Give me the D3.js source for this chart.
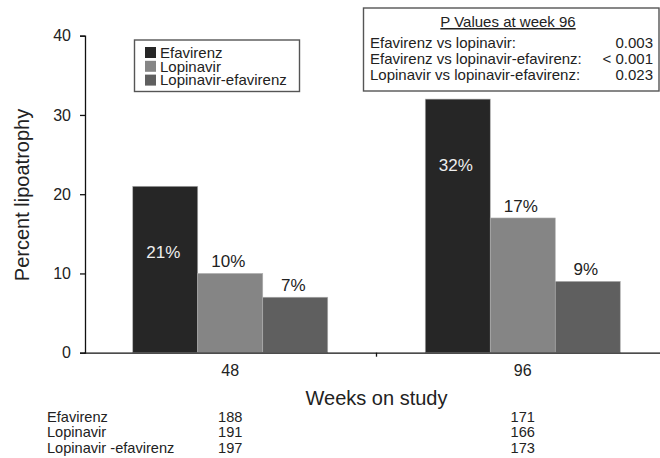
<!DOCTYPE html>
<html>
<head>
<meta charset="utf-8">
<script src="https://cdn.jsdelivr.net/npm/d3@7"></script>
<style>
  body { margin: 0; background: #fff; }
  svg { display: block; font-family: "Liberation Sans", Arial, sans-serif; }
</style>
</head>
<body>
<svg id="chart" width="660" height="458"></svg>
<script>
// data
var weeks = ['48', '96'];
var seriesNames = ['Efavirenz', 'Lopinavir', 'Lopinavir-efavirenz'];
var efavirenzPct = [21, 32];
var lopinavirPct = [10, 17];
var lopEfaPct = [7, 9];
var seriesColors = ['#262626', '#858585', '#5f5f5f'];
var yTicks = [0, 10, 20, 30, 40];

// patients per arm under the x axis
var nRowLabels = ['Efavirenz', 'Lopinavir', 'Lopinavir -efavirenz'];
var nEfavirenz = [188, 171];
var nLopinavir = [191, 166];
var nLopEfa = [197, 173];

// p value box
var pTitle = 'P Values at week 96';
var pComparisons = ['Efavirenz vs lopinavir:', 'Efavirenz vs lopinavir-efavirenz:', 'Lopinavir vs lopinavir-efavirenz:'];
var pValues = ['0.003', '< 0.001', '0.023'];

var svg = d3.select('#chart');

var x0 = d3.scaleBand()
    .domain(weeks)
    .range([84, 669])
    .paddingInner(0)
    .paddingOuter(0);

var x1 = d3.scaleBand()
    .domain(seriesNames)
    .range([0, x0.bandwidth()])
    .paddingInner(0)
    .paddingOuter(0.75);

var y = d3.scaleLinear()
    .domain([0, 40])
    .range([352.7, 35.7]);

var allSeries = [efavirenzPct, lopinavirPct, lopEfaPct];
var bars = [];
weeks.forEach(function (w, i) {
    seriesNames.forEach(function (s, j) {
        bars.push({week: w, series: s, value: allSeries[j][i], idx: j});
    });
});

// bars
svg.append('g')
    .selectAll('rect')
    .data(bars)
    .enter()
    .append('rect')
    .attr('x', function (d) { return x0(d.week) + x1(d.series); })
    .attr('y', function (d) { return y(d.value); })
    .attr('width', x1.bandwidth())
    .attr('height', function (d) { return y(0) - y(d.value); })
    .style('fill', function (d) { return seriesColors[d.idx]; })
    .style('stroke', '#b0b0b0')
    .style('stroke-width', 0.6);

// percent labels: inside the tall dark bar, above the others
svg.append('g')
    .selectAll('text')
    .data(bars)
    .enter()
    .append('text')
    .attr('x', function (d) { return x0(d.week) + x1(d.series) + x1.bandwidth() / 2 - 2; })
    .attr('y', function (d) { return d.idx === 0 ? y(d.value) + 72 : y(d.value) - 6; })
    .attr('text-anchor', 'middle')
    .style('font-size', '17px')
    .style('fill', function (d) { return d.idx === 0 ? '#eeeeee' : '#222'; })
    .text(function (d) { return d.value + '%'; });

// y axis
var yAxis = svg.append('g')
    .attr('transform', 'translate(85,0)')
    .call(d3.axisLeft(y).tickValues(yTicks).tickSize(5).tickPadding(9));
yAxis.select('.domain').attr('stroke', '#111').attr('stroke-width', 1.3);
yAxis.selectAll('.tick line').attr('stroke', '#111').attr('stroke-width', 1.3);
yAxis.selectAll('.tick text')
    .style('font-size', '16px')
    .style('font-family', '"Liberation Sans", Arial, sans-serif')
    .style('fill', '#222');

// x axis
var xAxis = svg.append('g')
    .attr('transform', 'translate(0,' + y(0) + ')')
    .call(d3.axisBottom(x0).tickSize(0).tickPadding(12));
xAxis.select('.domain').attr('stroke', '#111').attr('stroke-width', 1.3);
xAxis.selectAll('.tick text')
    .style('font-size', '16px')
    .style('font-family', '"Liberation Sans", Arial, sans-serif')
    .style('fill', '#222');

// small separator tick between the two weeks
xAxis.append('line')
    .attr('x1', x0(weeks[1]))
    .attr('x2', x0(weeks[1]))
    .attr('y1', 0)
    .attr('y2', 4)
    .attr('stroke', '#111')
    .attr('stroke-width', 1.3);

// axis titles
svg.append('text')
    .attr('transform', 'translate(29,195) rotate(-90)')
    .attr('text-anchor', 'middle')
    .style('font-size', '20px')
    .style('fill', '#222')
    .text('Percent lipoatrophy');

svg.append('text')
    .attr('x', (x0.range()[0] + x0.range()[1]) / 2)
    .attr('y', 405)
    .attr('text-anchor', 'middle')
    .style('font-size', '20px')
    .style('fill', '#222')
    .text('Weeks on study');

// numbers table
var nRows = [nEfavirenz, nLopinavir, nLopEfa];
var table = svg.append('g').style('font-size', '14.6px').style('fill', '#222');
nRowLabels.forEach(function (lab, r) {
    var ty = 421.5 + r * 15.5;
    table.append('text')
        .attr('x', 47)
        .attr('y', ty)
        .text(lab);
    weeks.forEach(function (w, i) {
        table.append('text')
            .attr('x', x0(w) + x0.bandwidth() / 2)
            .attr('y', ty)
            .attr('text-anchor', 'middle')
            .text(nRows[r][i]);
    });
});

// legend
var legend = svg.append('g');
legend.append('rect')
    .attr('x', 134.5)
    .attr('y', 40)
    .attr('width', 165)
    .attr('height', 51.5)
    .style('fill', '#fff')
    .style('stroke', '#555')
    .style('stroke-width', 1.4);

seriesNames.forEach(function (s, i) {
    var cy = 52.5 + i * 13.8;
    legend.append('rect')
        .attr('x', 145)
        .attr('y', cy - 5.5)
        .attr('width', 11)
        .attr('height', 11)
        .style('fill', seriesColors[i]);
    legend.append('text')
        .attr('x', 160)
        .attr('y', cy + 5.3)
        .style('font-size', '15px')
        .style('fill', '#222')
        .text(s);
});

// p value box
var pBox = svg.append('g');
pBox.append('rect')
    .attr('x', 363.5)
    .attr('y', 8)
    .attr('width', 295.5)
    .attr('height', 83)
    .style('fill', '#fff')
    .style('stroke', '#555')
    .style('stroke-width', 1.4);

pBox.append('text')
    .attr('x', 508)
    .attr('y', 27)
    .attr('text-anchor', 'middle')
    .style('font-size', '15px')
    .style('fill', '#222')
    .style('text-decoration', 'underline')
    .text(pTitle);

pComparisons.forEach(function (c, i) {
    var ty = 48 + i * 16;
    pBox.append('text')
        .attr('x', 370)
        .attr('y', ty)
        .style('font-size', '15px')
        .style('fill', '#222')
        .text(c);
    pBox.append('text')
        .attr('x', 653)
        .attr('y', ty)
        .attr('text-anchor', 'end')
        .style('font-size', '15px')
        .style('fill', '#222')
        .text(pValues[i]);
});
</script>
</body>
</html>
